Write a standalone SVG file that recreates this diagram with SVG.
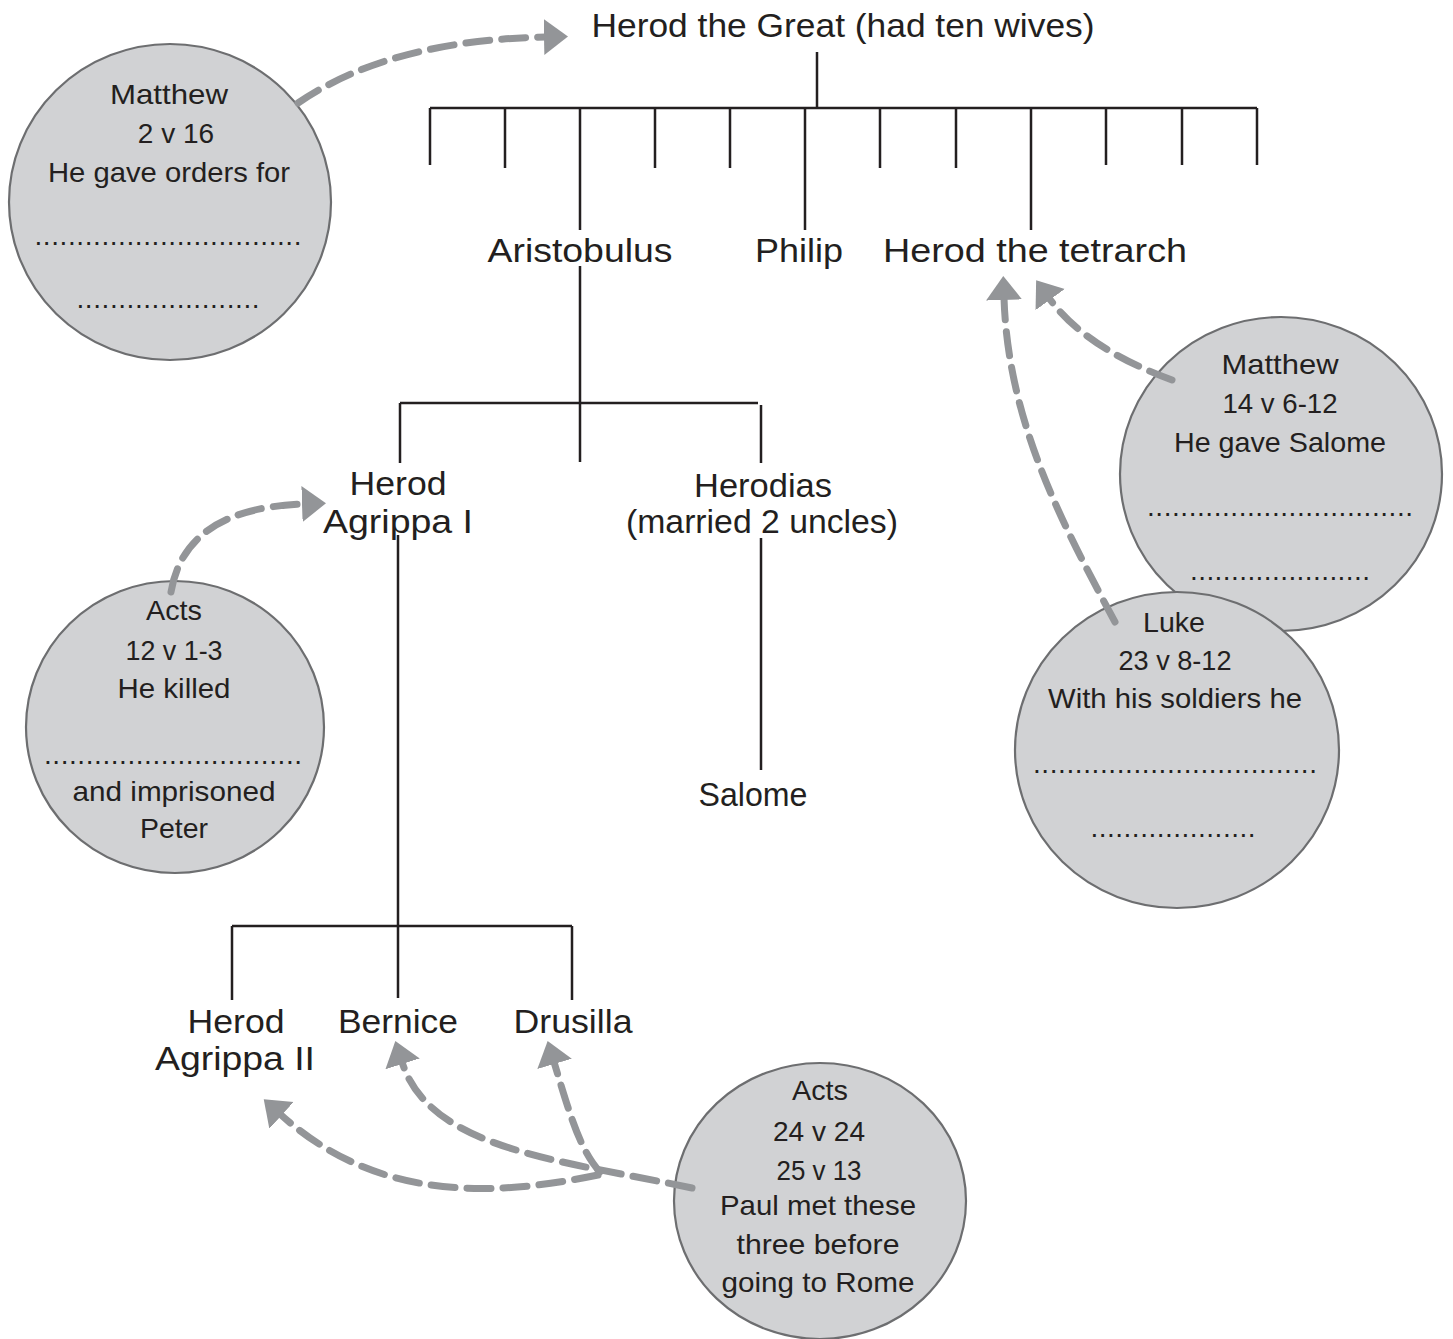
<svg xmlns="http://www.w3.org/2000/svg" width="1453" height="1339" viewBox="0 0 1453 1339">
<style>
.bg{fill:#ffffff}
.tree{stroke:#231f20;stroke-width:2.5;fill:none;stroke-linecap:butt}
.name{font-family:"Liberation Sans",Arial,sans-serif;font-size:34px;fill:#231f20;text-anchor:middle}
.bub{fill:#d1d2d4;stroke:#6d6e70;stroke-width:2.2}
.bt{font-family:"Liberation Sans",Arial,sans-serif;font-size:28px;fill:#231f20;text-anchor:middle}
.arr{fill:none;stroke:#939598;stroke-width:7;stroke-dasharray:24 12;stroke-linecap:round}
</style>
<defs>
<marker id="ah" markerUnits="userSpaceOnUse" markerWidth="26" markerHeight="40" refX="2" refY="20" orient="auto" viewBox="0 0 26 40">
<path d="M0,2 L24,20 L0,38 z" fill="#939598"/>
</marker>
</defs>
<rect class="bg" width="1453" height="1339"/>

<g id="tree-lines">
<path class="tree" d="M817,52 V108 M430,108 H1257"/>
<path class="tree" d="M430,108 V165 M505,108 V168 M655,108 V168 M730,108 V168 M880,108 V168 M956,108 V168 M1106,108 V165 M1182,108 V165 M1257,108 V165"/>
<path class="tree" d="M580,108 V230 M805,108 V230 M1031,108 V230"/>
<path class="tree" d="M580,266 V462 M400,403 H758 M400,403 V463 M761,405 V463"/>
<path class="tree" d="M398,535 V998 M761,538 V770"/>
<path class="tree" d="M232,926 H572 M232,926 V1000 M572,926 V1000"/>
</g>

<g id="herod-the-great"><text class="name" x="843" y="37" textLength="503" lengthAdjust="spacingAndGlyphs">Herod the Great (had ten wives)</text></g>
<g id="aristobulus"><text class="name" x="580" y="262" textLength="185" lengthAdjust="spacingAndGlyphs">Aristobulus</text></g>
<g id="philip"><text class="name" x="799" y="262" textLength="88" lengthAdjust="spacingAndGlyphs">Philip</text></g>
<g id="herod-tetrarch"><text class="name" x="1035" y="262" textLength="304" lengthAdjust="spacingAndGlyphs">Herod the tetrarch</text></g>
<g id="herod-agrippa-1">
<text class="name" x="398" y="495" textLength="97" lengthAdjust="spacingAndGlyphs">Herod</text>
<text class="name" x="398" y="533" textLength="150" lengthAdjust="spacingAndGlyphs">Agrippa I</text>
</g>
<g id="herodias">
<text class="name" x="763" y="497" textLength="138" lengthAdjust="spacingAndGlyphs">Herodias</text>
<text class="name" x="762" y="533" textLength="272" lengthAdjust="spacingAndGlyphs">(married 2 uncles)</text>
</g>
<g id="salome"><text class="name" x="753" y="806" textLength="109" lengthAdjust="spacingAndGlyphs">Salome</text></g>
<g id="herod-agrippa-2">
<text class="name" x="236" y="1033" textLength="97" lengthAdjust="spacingAndGlyphs">Herod</text>
<text class="name" x="235" y="1070" textLength="160" lengthAdjust="spacingAndGlyphs">Agrippa II</text>
</g>
<g id="bernice"><text class="name" x="398" y="1033" textLength="120" lengthAdjust="spacingAndGlyphs">Bernice</text></g>
<g id="drusilla"><text class="name" x="573" y="1033" textLength="119" lengthAdjust="spacingAndGlyphs">Drusilla</text></g>

<g id="note-matthew-2">
<ellipse class="bub" cx="170" cy="202" rx="161" ry="158"/>
<text class="bt" x="169" y="104" textLength="118" lengthAdjust="spacingAndGlyphs">Matthew</text>
<text class="bt" x="176" y="143">2 v 16</text>
<text class="bt" x="169" y="182" textLength="242" lengthAdjust="spacingAndGlyphs">He gave orders for</text>
<text class="bt" x="168" y="245" textLength="267" lengthAdjust="spacing">................................</text>
<text class="bt" x="168" y="308" textLength="183" lengthAdjust="spacing">......................</text>
</g>

<g id="note-matthew-14">
<ellipse class="bub" cx="1281" cy="474" rx="161" ry="157"/>
<text class="bt" x="1280" y="374" textLength="117" lengthAdjust="spacingAndGlyphs">Matthew</text>
<text class="bt" x="1280" y="413" textLength="115" lengthAdjust="spacingAndGlyphs">14 v 6-12</text>
<text class="bt" x="1280" y="452" textLength="212" lengthAdjust="spacingAndGlyphs">He gave Salome</text>
<text class="bt" x="1280" y="516" textLength="266" lengthAdjust="spacing">................................</text>
<text class="bt" x="1280" y="580" textLength="180" lengthAdjust="spacing">......................</text>
</g>

<g id="note-luke-23">
<ellipse class="bub" cx="1177" cy="750" rx="162" ry="158"/>
<text class="bt" x="1174" y="632" textLength="62" lengthAdjust="spacingAndGlyphs">Luke</text>
<text class="bt" x="1175" y="670" textLength="113" lengthAdjust="spacingAndGlyphs">23 v 8-12</text>
<text class="bt" x="1175" y="708" textLength="254" lengthAdjust="spacingAndGlyphs">With his soldiers he</text>
<text class="bt" x="1175" y="773" textLength="284" lengthAdjust="spacing">..................................</text>
<text class="bt" x="1173" y="837" textLength="165" lengthAdjust="spacing">....................</text>
</g>

<g id="note-acts-12">
<ellipse class="bub" cx="175" cy="727" rx="149" ry="146"/>
<text class="bt" x="174" y="620" textLength="56" lengthAdjust="spacingAndGlyphs">Acts</text>
<text class="bt" x="174" y="660" textLength="97" lengthAdjust="spacingAndGlyphs">12 v 1-3</text>
<text class="bt" x="174" y="698" textLength="113" lengthAdjust="spacingAndGlyphs">He killed</text>
<text class="bt" x="173" y="764" textLength="258" lengthAdjust="spacing">...............................</text>
<text class="bt" x="174" y="801" textLength="203" lengthAdjust="spacingAndGlyphs">and imprisoned</text>
<text class="bt" x="174" y="838" textLength="68" lengthAdjust="spacingAndGlyphs">Peter</text>
</g>

<g id="note-acts-24">
<ellipse class="bub" cx="820" cy="1201" rx="146" ry="138"/>
<text class="bt" x="820" y="1100" textLength="56" lengthAdjust="spacingAndGlyphs">Acts</text>
<text class="bt" x="819" y="1141" textLength="92" lengthAdjust="spacingAndGlyphs">24 v 24</text>
<text class="bt" x="819" y="1180" textLength="85" lengthAdjust="spacingAndGlyphs">25 v 13</text>
<text class="bt" x="818" y="1215" textLength="196" lengthAdjust="spacingAndGlyphs">Paul met these</text>
<text class="bt" x="818" y="1254" textLength="163" lengthAdjust="spacingAndGlyphs">three before</text>
<text class="bt" x="818" y="1292" textLength="193" lengthAdjust="spacingAndGlyphs">going to Rome</text>
</g>

<g id="connectors">
<path class="arr" marker-end="url(#ah)" d="M298,103 Q390,40 546,37"/>
<path class="arr" marker-end="url(#ah)" d="M1172,380 Q1085,348 1049,298"/>
<path class="arr" marker-end="url(#ah)" d="M1115,622 C1060,520 1008,420 1004,298"/>
<path class="arr" marker-end="url(#ah)" d="M171,592 Q185,508 304,504"/>
<path class="arr" marker-end="url(#ah)" d="M692,1188 C560,1160 430,1150 402,1062"/>
<path class="arr" marker-end="url(#ah)" d="M600,1172 C580,1150 570,1115 554,1062"/>
<path class="arr" marker-end="url(#ah)" d="M598,1175 C500,1195 380,1205 280,1114"/>
</g>
</svg>
